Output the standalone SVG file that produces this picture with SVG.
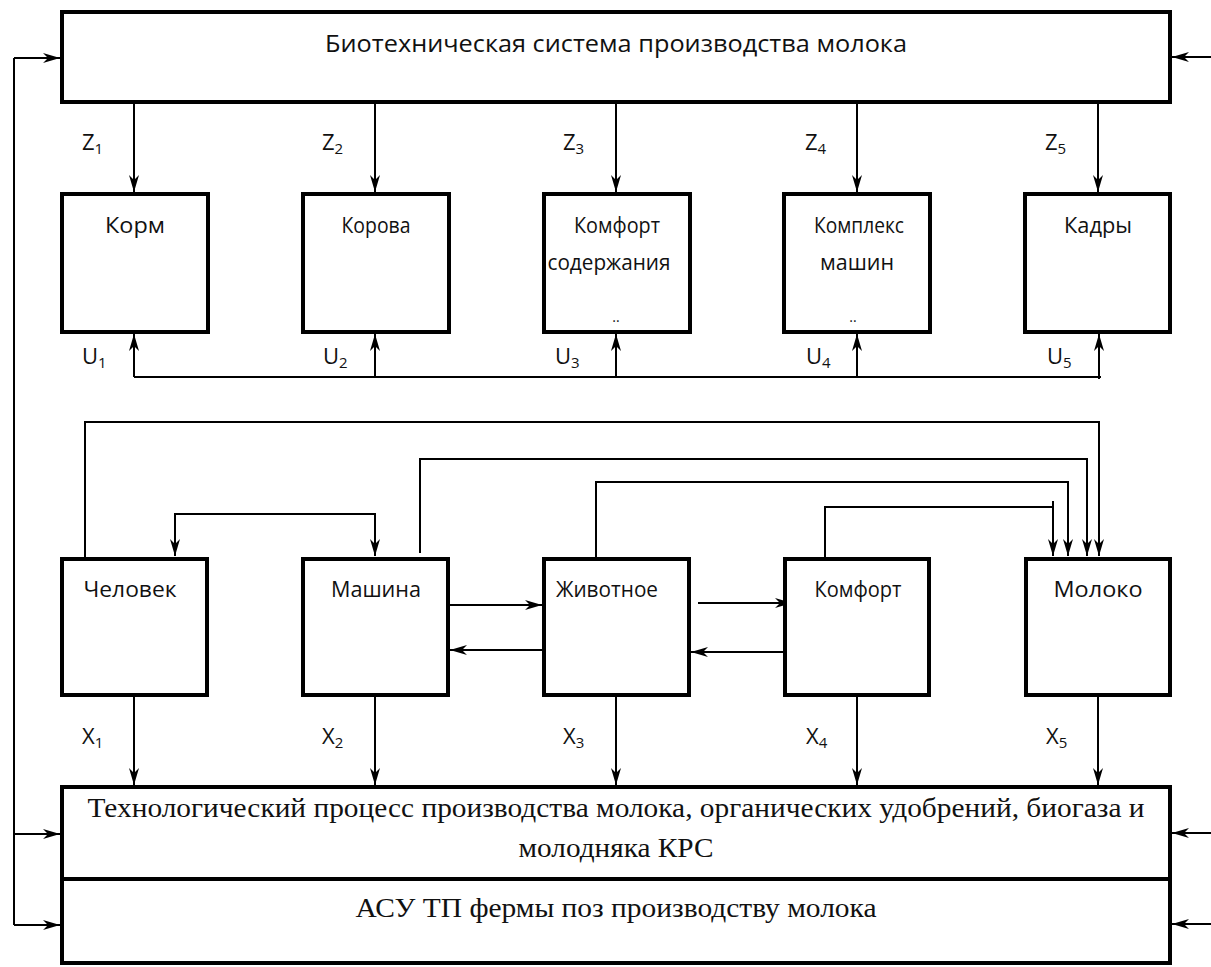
<svg xmlns="http://www.w3.org/2000/svg" width="1211" height="967" viewBox="0 0 1211 967">
<style>
.box{fill:#fff;stroke:#000;stroke-width:4}
.ln{fill:none;stroke:#000;stroke-width:2}
.arr{fill:none;stroke:#000;stroke-width:2;marker-end:url(#ah)}
.lbl{font-family:"Open Sans","Liberation Sans",sans-serif;font-size:22px;fill:#111;text-anchor:middle}
.var{font-family:"Open Sans","Liberation Sans",sans-serif;font-size:22px;fill:#111}
.sub{font-size:15px}
.ser{font-family:"Liberation Serif","Times New Roman",serif;font-size:27px;fill:#111;text-anchor:middle}
</style>
<defs>
<marker id="ah" markerUnits="userSpaceOnUse" markerWidth="18" markerHeight="12" viewBox="0 0 18 12" refX="17" refY="6" orient="auto">
<path d="M0,1 L17,6 L0,11 L5,6 Z" fill="#000"/>
</marker>
</defs>

<g id="connectors">
<path class="ln" d="M14,58 V925"/>
<path class="arr" d="M14,58 H60"/>
<path class="arr" d="M14,834 H60"/>
<path class="arr" d="M14,925 H60"/>
<path class="arr" d="M1211,57 H1172"/>
<path class="arr" d="M1211,833 H1172"/>
<path class="arr" d="M1211,924 H1172"/>
<path class="arr" d="M134,104 V192"/>
<path class="arr" d="M375,104 V192"/>
<path class="arr" d="M616,104 V192"/>
<path class="arr" d="M857,104 V192"/>
<path class="arr" d="M1098,104 V192"/>
<path class="ln" d="M134,377 H1101"/>
<path class="arr" d="M134,377 V334"/>
<path class="arr" d="M375,377 V334"/>
<path class="arr" d="M616,377 V334"/>
<path class="arr" d="M857,377 V334"/>
<path class="arr" d="M1099,379 V334"/>
<path class="arr" d="M85,557 V422 H1099 V556"/>
<path class="arr" d="M420,553 V459 H1087 V556"/>
<path class="arr" d="M596,557 V482 H1068 V556"/>
<path class="arr" d="M825,557 V507 H1053 V556"/>
<path class="ln" d="M1053,501 V507"/>
<path class="arr" d="M375,514 H175 V556"/>
<path class="arr" d="M175,514 H375 V556"/>
<path class="arr" d="M449,605 H542"/>
<path class="arr" d="M542,650 H450"/>
<path class="arr" d="M698,603 H792"/>
<path class="arr" d="M783,652 H691"/>
<path class="arr" d="M134,697 V785"/>
<path class="arr" d="M375,697 V785"/>
<path class="arr" d="M616,697 V785"/>
<path class="arr" d="M857,697 V785"/>
<path class="arr" d="M1098,697 V785"/>
</g>

<g id="top">
<rect class="box" x="62" y="12" width="1108" height="90"/>
<text class="lbl" x="616" y="52" style="font-size:24px" textLength="582" lengthAdjust="spacingAndGlyphs">Биотехническая система производства молока</text>
</g>

<g id="korm"><rect class="box" x="62" y="194" width="146" height="138"/><text class="lbl" x="135" y="233" textLength="60" lengthAdjust="spacingAndGlyphs">Корм</text></g>
<g id="korova"><rect class="box" x="303" y="194" width="146" height="138"/><text class="lbl" x="376" y="233" textLength="69" lengthAdjust="spacingAndGlyphs">Корова</text></g>
<g id="komfort-sod"><rect class="box" x="544" y="194" width="146" height="138"/>
<text class="lbl" x="617" y="233" textLength="86" lengthAdjust="spacingAndGlyphs">Комфорт</text>
<text class="lbl" x="609" y="270" textLength="123" lengthAdjust="spacingAndGlyphs">содержания</text>
<text class="lbl" x="616" y="322" style="font-size:14px">..</text></g>
<g id="kompleks"><rect class="box" x="784" y="194" width="146" height="138"/>
<text class="lbl" x="859" y="233" textLength="90" lengthAdjust="spacingAndGlyphs">Комплекс</text>
<text class="lbl" x="857" y="270" textLength="74" lengthAdjust="spacingAndGlyphs">машин</text>
<text class="lbl" x="853" y="322" style="font-size:14px">..</text></g>
<g id="kadry"><rect class="box" x="1025" y="194" width="145" height="138"/><text class="lbl" x="1098" y="233" textLength="68" lengthAdjust="spacingAndGlyphs">Кадры</text></g>

<g id="labels">
<text class="var" x="82" y="150">Z<tspan class="sub" dy="4">1</tspan></text>
<text class="var" x="322" y="150">Z<tspan class="sub" dy="4">2</tspan></text>
<text class="var" x="563" y="150">Z<tspan class="sub" dy="4">3</tspan></text>
<text class="var" x="805" y="150">Z<tspan class="sub" dy="4">4</tspan></text>
<text class="var" x="1045" y="150">Z<tspan class="sub" dy="4">5</tspan></text>
<text class="var" x="82" y="364">U<tspan class="sub" dy="4">1</tspan></text>
<text class="var" x="323" y="364">U<tspan class="sub" dy="4">2</tspan></text>
<text class="var" x="555" y="364">U<tspan class="sub" dy="4">3</tspan></text>
<text class="var" x="806" y="364">U<tspan class="sub" dy="4">4</tspan></text>
<text class="var" x="1047" y="364">U<tspan class="sub" dy="4">5</tspan></text>
<text class="var" x="82" y="744">X<tspan class="sub" dy="4">1</tspan></text>
<text class="var" x="322" y="744">X<tspan class="sub" dy="4">2</tspan></text>
<text class="var" x="563" y="744">X<tspan class="sub" dy="4">3</tspan></text>
<text class="var" x="806" y="744">X<tspan class="sub" dy="4">4</tspan></text>
<text class="var" x="1046" y="744">X<tspan class="sub" dy="4">5</tspan></text>
</g>

<g id="chelovek"><rect class="box" x="62" y="559" width="145" height="136"/><text class="lbl" x="130" y="597" textLength="93" lengthAdjust="spacingAndGlyphs">Человек</text></g>
<g id="mashina"><rect class="box" x="303" y="559" width="145" height="136"/><text class="lbl" x="376" y="597" textLength="90" lengthAdjust="spacingAndGlyphs">Машина</text></g>
<g id="zhivotnoe"><rect class="box" x="544" y="559" width="145" height="136"/><text class="lbl" x="607" y="597" textLength="102" lengthAdjust="spacingAndGlyphs">Животное</text></g>
<g id="komfort"><rect class="box" x="785" y="559" width="144" height="136"/><text class="lbl" x="858" y="597" textLength="87" lengthAdjust="spacingAndGlyphs">Комфорт</text></g>
<g id="moloko"><rect class="box" x="1026" y="559" width="144" height="136"/><text class="lbl" x="1098" y="597" textLength="89" lengthAdjust="spacingAndGlyphs">Молоко</text></g>

<g id="tech">
<rect class="box" x="62" y="787" width="1108" height="92"/>
<text class="ser" x="616" y="817" textLength="1057" lengthAdjust="spacingAndGlyphs">Технологический процесс производства молока, органических удобрений, биогаза и</text>
<text class="ser" x="616" y="857" textLength="195" lengthAdjust="spacingAndGlyphs">молодняка КРС</text>
</g>
<g id="asu">
<rect class="box" x="62" y="879" width="1108" height="84"/>
<text class="ser" x="616" y="917" textLength="521" lengthAdjust="spacingAndGlyphs">АСУ ТП фермы поз производству молока</text>
</g>
</svg>
